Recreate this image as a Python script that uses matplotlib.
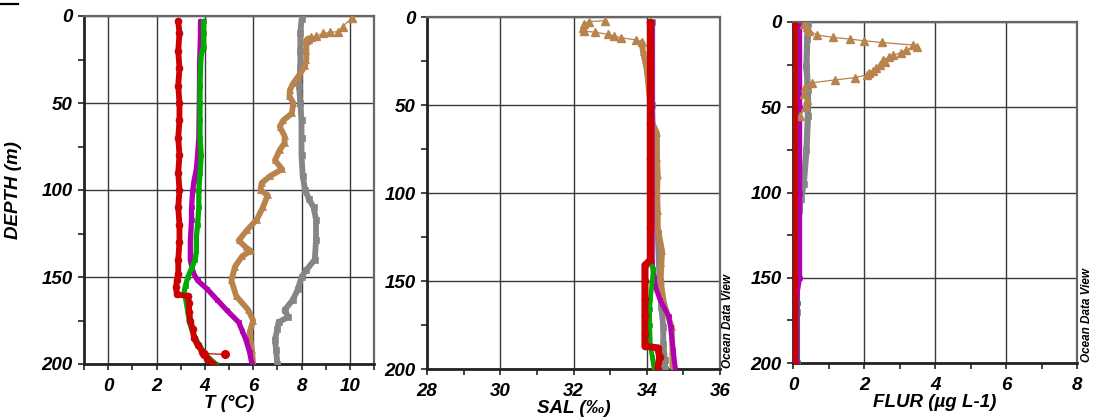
import matplotlib
matplotlib.use("Agg")
import matplotlib.pyplot as plt
from matplotlib.lines import Line2D

plt.rcParams['font.family'] = ['Liberation Sans', 'DejaVu Sans']

RED = '#cc0000'
GREEN = '#00aa00'
MAGENTA = '#b000b0'
GRAY = '#868686'
BROWN = '#b8834c'

# ---- temperature (degC) vs depth (m) ----
t_red_z = [3, 10, 20, 30, 40, 50, 60, 70, 80, 90, 100, 110, 120, 130, 140, 148, 152, 156, 160,
           161, 165, 170, 175, 180, 185, 189, 193, 197, 200]
t_red = [2.9, 2.95, 2.9, 2.95, 2.9, 2.95, 2.95, 2.9, 2.95, 2.9, 2.95, 2.9, 2.95, 2.95, 2.9, 2.9,
         2.85, 2.8, 2.85, 3.3, 3.35, 3.35, 3.4, 3.5, 3.55, 3.7, 3.9, 4.1, 4.35]
t_red_spike_z = [194, 194.5]
t_red_spike = [3.95, 4.85]

t_green_z = [3, 10, 18, 22, 30, 40, 50, 60, 70, 80, 90, 100, 110, 120, 127, 135, 140, 145, 150,
             155, 158, 162, 166, 170, 175, 180, 185, 190, 195, 200]
t_green = [3.95, 3.95, 3.95, 3.85, 3.82, 3.8, 3.8, 3.8, 3.8, 3.85, 3.8, 3.75, 3.75, 3.7, 3.65,
           3.65, 3.6, 3.45, 3.3, 3.2, 3.15, 3.2, 3.25, 3.3, 3.35, 3.45, 3.6, 3.8, 4.05, 4.45]

t_mag_z = [3, 10, 20, 30, 40, 50, 60, 70, 80, 88, 95, 100, 110, 117, 130, 140, 147, 152, 157,
           163, 169, 176, 181, 186, 193, 200]
t_mag = [3.82, 3.82, 3.8, 3.78, 3.78, 3.77, 3.76, 3.75, 3.7, 3.65, 3.55, 3.5, 3.45, 3.45, 3.4,
         3.4, 3.5, 3.7, 4.1, 4.5, 4.9, 5.4, 5.55, 5.7, 5.85, 5.95]

t_gray_z = [2, 10, 20, 30, 40, 50, 60, 70, 80, 92, 100, 105, 110, 117, 129, 140, 146, 150, 157,
            163, 169, 173, 176, 180, 186, 192, 200]
t_gray = [8.0, 7.95, 7.95, 7.95, 7.9, 7.95, 8.0, 8.0, 8.0, 8.05, 8.15, 8.3, 8.5, 8.6, 8.6, 8.55,
          8.2, 8.0, 7.85, 7.65, 7.3, 7.45, 7.05, 7.0, 6.9, 6.95, 7.0]

t_brown_top_z = [1.3, 6.1, 9.0, 9.4, 10.0, 11.5, 12.3, 13.2, 13.8]
t_brown_top = [10.07, 9.7, 9.5, 9.17, 8.9, 8.6, 8.4, 8.27, 8.2]
t_brown_z = [13.8, 20, 25, 29, 35, 38.6, 42.5, 46, 50, 56, 60, 63.6, 69, 73, 77, 83, 88, 92, 96,
             100, 103, 110, 117, 123, 129, 133, 135, 138, 144, 152, 161, 169, 175, 182, 192, 200]
t_brown = [8.2, 8.2, 8.2, 8.14, 7.85, 7.66, 7.52, 7.5, 7.66, 7.6, 7.24, 7.1, 7.3, 7.3, 7.1, 6.9,
           7.2, 6.7, 6.35, 6.3, 6.6, 6.4, 6.15, 5.75, 5.4, 5.7, 5.9, 5.55, 5.25, 5.1, 5.3, 5.8,
           6.0, 5.85, 5.95, 6.0]

# ---- salinity (permil) vs depth ----
s_red_z = [3, 20, 40, 60, 80, 100, 120, 138, 141, 150, 160, 170, 180, 187, 188, 193, 200]
s_red = [34.1, 34.1, 34.1, 34.1, 34.1, 34.1, 34.1, 34.1, 33.95, 33.95, 33.95, 33.95, 33.95,
         33.95, 34.3, 34.35, 34.3]

s_green_z = [3, 50, 100, 140, 143, 150, 160, 166, 175, 187, 193, 200]
s_green = [34.1, 34.1, 34.1, 34.1, 34.18, 34.15, 34.1, 34.08, 34.08, 34.1, 34.15, 34.2]

s_mag_z = [3, 50, 100, 140, 148, 153, 161, 170, 176, 189, 200]
s_mag = [34.15, 34.15, 34.15, 34.15, 34.2, 34.23, 34.37, 34.6, 34.65, 34.72, 34.78]

s_gray_z = [3, 50, 100, 123, 150, 165, 176, 186, 195, 200]
s_gray = [34.15, 34.15, 34.2, 34.3, 34.35, 34.4, 34.45, 34.45, 34.5, 34.5]

s_brown_top_z = [2.1, 2.6, 4, 6, 8, 8.7, 9.8, 10.8, 11.8, 13, 14.4]
s_brown_top = [32.86, 32.41, 32.3, 32.25, 32.3, 32.6, 32.93, 33.1, 33.3, 33.7, 33.86]
s_brown_z = [14.4, 20, 30, 40, 50, 60, 66, 80, 90, 100, 110, 120, 133, 140, 150, 160, 165, 176,
             190, 200]
s_brown = [33.86, 33.9, 34.0, 34.05, 34.1, 34.15, 34.28, 34.28, 34.3, 34.28, 34.3, 34.3, 34.42,
           34.4, 34.38, 34.45, 34.5, 34.68, 34.7, 34.7]

# ---- fluorescence (ug/L) vs depth ----
f_red_z = [2, 50, 100, 150, 200]
f_red = [0.05, 0.05, 0.05, 0.05, 0.05]

f_green_z = [2, 60, 68, 100, 165, 200]
f_green = [0.13, 0.13, 0.15, 0.13, 0.14, 0.14]

f_mag_z = [2, 50, 100, 150, 160, 200]
f_mag = [0.2, 0.2, 0.2, 0.2, 0.12, 0.12]

f_gray_z = [1, 10, 26, 40, 55, 75, 95, 104, 110, 120, 140, 170, 200]
f_gray = [0.42, 0.4, 0.38, 0.42, 0.42, 0.38, 0.3, 0.22, 0.18, 0.15, 0.12, 0.1, 0.1]

f_brown_z = [1, 3, 5, 7.6, 9, 10, 11, 12, 13.5, 14.5, 16.4, 18, 19.4, 20.5, 22.3, 23.5, 25, 27,
             28.5, 30, 31, 32.6, 34, 35.6, 38, 42, 46, 50, 55]
f_brown = [0.3, 0.4, 0.45, 0.68, 1.12, 1.6, 2.0, 2.5, 3.37, 3.5, 3.18, 3.05, 2.82, 2.7, 2.53,
           2.6, 2.45, 2.35, 2.25, 2.15, 2.08, 1.75, 1.18, 0.53, 0.34, 0.3, 0.4, 0.35, 0.2]

W, H = 1094, 418
fig = plt.figure(figsize=(W / 100, H / 100), dpi=100)


def box(left, right, top, bottom):
    return [left / W, 1 - bottom / H, (right - left) / W, (bottom - top) / H]


def thick(ax, x, z, color, lw=4.2, ms=4.5, marker='o', zo=3):
    ax.plot(x, z, color=color, lw=lw, marker=marker, ms=ms, mec=color, mew=0.5,
            solid_joinstyle='round', solid_capstyle='round', zorder=zo)


def thin(ax, x, z, color, marker='^', ms=5.5, zo=4):
    ax.plot(x, z, color=color, lw=0.9, marker=marker, ms=ms, mec=color, zorder=zo)


tick_font = dict(family=['Liberation Sans', 'DejaVu Sans'], weight='bold', style='italic',
                 size=13.5)


def setup(ax, xlim, majors, minors, xlabel):
    ax.set_xlim(*xlim)
    ax.set_ylim(200, 0)
    ax.set_xticks(majors)
    ax.set_xticks(minors, minor=True)
    ax.set_yticks([0, 50, 100, 150, 200])
    ax.set_yticks([25, 75, 125, 175], minor=True)
    ax.tick_params(which='both', direction='out', length=4, width=1.2, color='#222')
    ax.tick_params(axis='x', pad=6)
    ax.tick_params(axis='y', pad=4)
    for lab in ax.get_xticklabels() + ax.get_yticklabels():
        lab.set_fontproperties(tick_font)
    ax.grid(True, which='major', color='#3a3a3a', lw=1.0, zorder=1)
    ax.set_axisbelow(True)
    for s in ('left', 'bottom'):
        ax.spines[s].set_linewidth(2.0)
        ax.spines[s].set_color('#222')
    for s in ('top', 'right'):
        ax.spines[s].set_linewidth(1.6)
        ax.spines[s].set_color('#666')
    ax.set_xlabel(xlabel, fontdict=tick_font, labelpad=0)


# temperature
ax1 = fig.add_axes(box(84, 374, 16, 364))
thick(ax1, t_gray, t_gray_z, GRAY, ms=4.5, marker='s', zo=3)
thick(ax1, t_brown, t_brown_z, BROWN, ms=5, marker='^', zo=4)
thin(ax1, t_brown_top, t_brown_top_z, BROWN)
thick(ax1, t_mag, t_mag_z, MAGENTA, lw=3.8, ms=3.5, marker='s', zo=5)
thick(ax1, t_green, t_green_z, GREEN, lw=3.8, ms=3.5, marker='s', zo=6)
thick(ax1, t_red, t_red_z, RED, lw=4.2, ms=5, marker='o', zo=7)
thin(ax1, t_red_spike, t_red_spike_z, RED, marker='o', ms=5.5, zo=7)
setup(ax1, (-1, 11), [0, 2, 4, 6, 8, 10], [-1, 1, 3, 5, 7, 9, 11], 'T (°C)')
ax1.set_ylabel('DEPTH (m)', fontdict=tick_font, labelpad=14)

# salinity
ax2 = fig.add_axes(box(427, 720, 17, 369))
thick(ax2, s_gray, s_gray_z, GRAY, ms=4, marker='s', zo=3)
thick(ax2, s_brown, s_brown_z, BROWN, ms=4.5, marker='^', zo=4)
thin(ax2, s_brown_top, s_brown_top_z, BROWN)
thick(ax2, s_mag, s_mag_z, MAGENTA, lw=3.6, ms=3.5, marker='s', zo=5)
thick(ax2, s_green, s_green_z, GREEN, lw=3.4, ms=3, marker='s', zo=6)
thick(ax2, s_red, s_red_z, RED, lw=5.0, ms=5, marker='o', zo=7)
setup(ax2, (28, 36), [28, 30, 32, 34, 36], list(range(29, 36, 2)), 'SAL (‰)')

# fluorescence
ax3 = fig.add_axes(box(793, 1077, 22, 363))
thick(ax3, f_gray, f_gray_z, GRAY, lw=4.5, ms=4, marker='s', zo=3)
thick(ax3, f_green, f_green_z, GREEN, lw=3.0, ms=3, marker='s', zo=4)
thick(ax3, f_mag, f_mag_z, MAGENTA, lw=3.0, ms=3, marker='s', zo=5)
thin(ax3, f_brown, f_brown_z, BROWN, zo=6)
thick(ax3, f_red, f_red_z, RED, lw=4.0, ms=4, marker='o', zo=7)
setup(ax3, (0, 8), [0, 2, 4, 6, 8], [1, 3, 5, 7], 'FLUR (µg L-1)')

odv_font = dict(family=['Liberation Sans', 'DejaVu Sans'], weight='bold', style='italic',
                size=8.5)
fig.text(728 / W, 1 - 368 / H, 'Ocean Data View', rotation=90, ha='center', va='bottom',
         fontdict=odv_font)
fig.text(1087 / W, 1 - 362 / H, 'Ocean Data View', rotation=90, ha='center', va='bottom',
         fontdict=odv_font)

fig.add_artist(Line2D([0, 18 / W], [1 - 4 / H, 1 - 4 / H], color='black', lw=1.6))

fig.savefig('out.png', dpi=100)
